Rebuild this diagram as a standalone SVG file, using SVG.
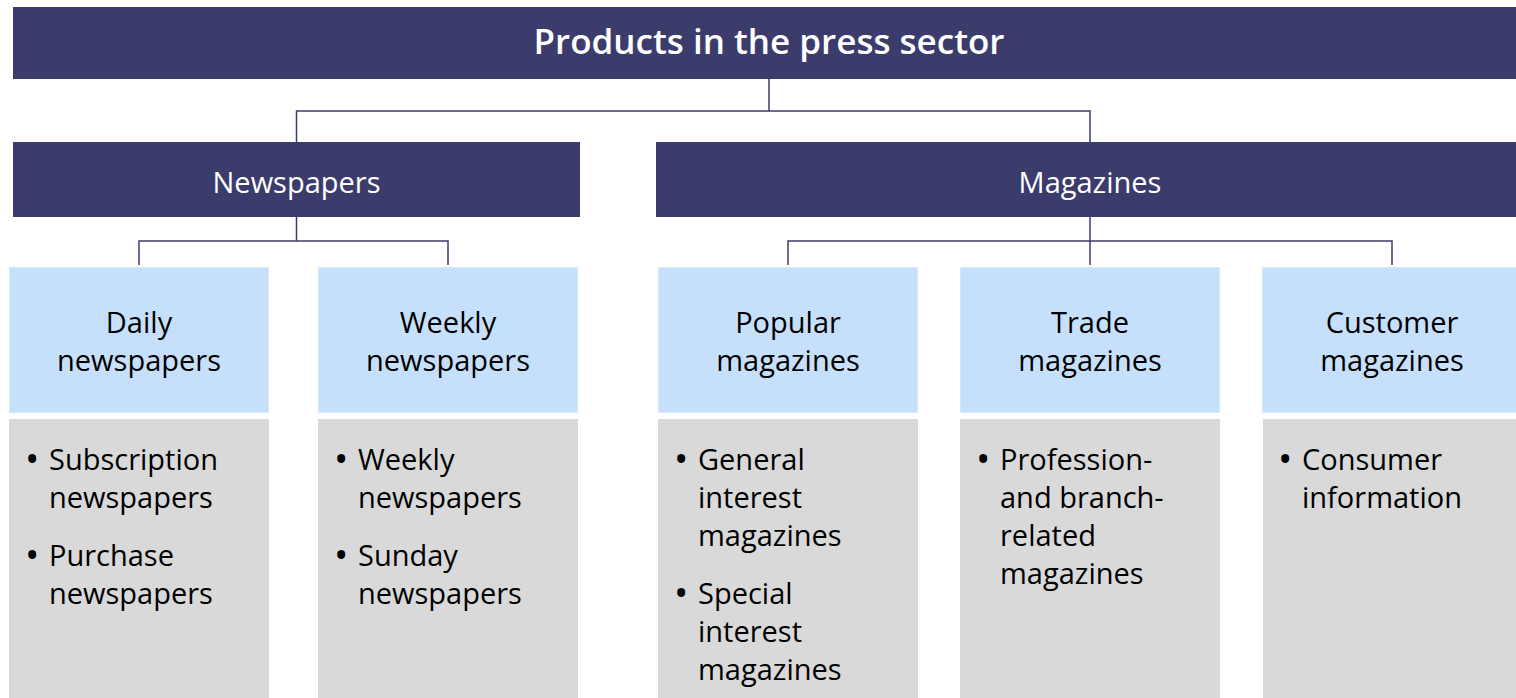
<svg xmlns="http://www.w3.org/2000/svg" width="1516" height="698" viewBox="0 0 1516 698">
<style>
.dark{fill:#3C3C6C}
.lb{fill:#C6E0FC;stroke:#D6E8FC;stroke-width:1}
.gr{fill:#D9D9D9}
.t{font-family:"Open Sans","Noto Sans",sans-serif;font-size:29px;fill:#000}
.b{font-family:"Open Sans","Noto Sans",sans-serif;font-size:38px;fill:#000}
.w{font-family:"Open Sans","Noto Sans",sans-serif;font-size:29px;fill:#fff;text-anchor:middle}
.title{font-size:35px;font-weight:600}
.c{text-anchor:middle}
.conn{fill:none;stroke:#3C3C6C;stroke-width:1.5}
</style>
<rect width="1516" height="698" fill="#fff"/>
<g id="connectors" class="conn">
<path d="M769 79V111M296.5 142V111H1090V142"/>
<path d="M296.5 217V241M139 265V241H448V265"/>
<path d="M1090 217V265M788 265V241H1392V265"/>
</g>
<g id="root"><rect class="dark" x="13" y="7" width="1503" height="72"/><text class="w title" x="769" y="54">Products in the press sector</text></g>
<g id="newspapers"><rect class="dark" x="13" y="142" width="567" height="75"/><text class="w" x="296.5" y="193">Newspapers</text></g>
<g id="magazines"><rect class="dark" x="656" y="142" width="860" height="75"/><text class="w" x="1090" y="193">Magazines</text></g>
<g id="daily"><rect class="lb" x="9.5" y="267.5" width="259" height="145"/><text class="t c" x="139" y="333">Daily</text><text class="t c" x="139" y="371">newspapers</text></g>
<g id="weekly"><rect class="lb" x="318.5" y="267.5" width="259" height="145"/><text class="t c" x="448" y="333">Weekly</text><text class="t c" x="448" y="371">newspapers</text></g>
<g id="popular"><rect class="lb" x="658.5" y="267.5" width="259" height="145"/><text class="t c" x="788" y="333">Popular</text><text class="t c" x="788" y="371">magazines</text></g>
<g id="trade"><rect class="lb" x="960.5" y="267.5" width="259" height="145"/><text class="t c" x="1090" y="333">Trade</text><text class="t c" x="1090" y="371">magazines</text></g>
<g id="customer"><rect class="lb" x="1262.5" y="267.5" width="254" height="145"/><text class="t c" x="1392" y="333">Customer</text><text class="t c" x="1392" y="371">magazines</text></g>
<g id="daily-list"><rect class="gr" x="9" y="419" width="260" height="279"/>
<text class="b" x="25" y="473">•</text><text class="t" x="49" y="470">Subscription</text><text class="t" x="49" y="508">newspapers</text>
<text class="b" x="25" y="569">•</text><text class="t" x="49" y="566">Purchase</text><text class="t" x="49" y="604">newspapers</text></g>
<g id="weekly-list"><rect class="gr" x="318" y="419" width="260" height="279"/>
<text class="b" x="334" y="473">•</text><text class="t" x="358" y="470">Weekly</text><text class="t" x="358" y="508">newspapers</text>
<text class="b" x="334" y="569">•</text><text class="t" x="358" y="566">Sunday</text><text class="t" x="358" y="604">newspapers</text></g>
<g id="popular-list"><rect class="gr" x="658" y="419" width="260" height="279"/>
<text class="b" x="674" y="473">•</text><text class="t" x="698" y="470">General</text><text class="t" x="698" y="508">interest</text><text class="t" x="698" y="546">magazines</text>
<text class="b" x="674" y="607">•</text><text class="t" x="698" y="604">Special</text><text class="t" x="698" y="642">interest</text><text class="t" x="698" y="680">magazines</text></g>
<g id="trade-list"><rect class="gr" x="960" y="419" width="260" height="279"/>
<text class="b" x="976" y="473">•</text><text class="t" x="1000" y="470">Profession-</text><text class="t" x="1000" y="508">and branch-</text><text class="t" x="1000" y="546">related</text><text class="t" x="1000" y="584">magazines</text></g>
<g id="customer-list"><rect class="gr" x="1263" y="419" width="253" height="279"/>
<text class="b" x="1278" y="473">•</text><text class="t" x="1302" y="470">Consumer</text><text class="t" x="1302" y="508">information</text></g>
</svg>
